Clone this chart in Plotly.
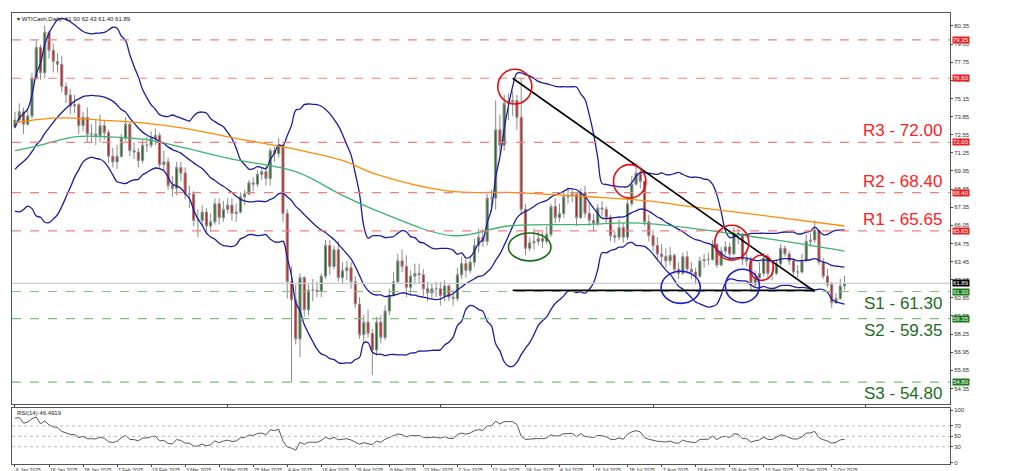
import plotly.graph_objects as go
from plotly.subplots import make_subplots
import pandas as pd

# daily closes before the first visible bar (only used to warm up the indicators)
warmup_close = [68.1, 68.3, 67.9, 68.4, 69.2, 70.3, 70.0, 70.6, 69.9, 70.1,
                69.4, 69.2, 69.5, 69.6, 70.1, 70.6, 71.4, 72.0, 73.1]

close = [73.6, 74.2, 73.3, 73.9, 76.6, 78.8, 77.0, 79.9, 78.6, 77.8,
         77.6, 76.0, 75.4, 74.6, 74.7, 73.2, 73.8, 72.6, 72.6, 72.5,
         73.2, 72.7, 71.0, 70.6, 71.0, 72.3, 73.3, 71.4, 71.3, 70.7,
         71.8, 71.8, 72.3, 72.5, 70.4, 70.6, 68.9, 68.7, 70.2, 69.8,
         68.3, 68.3, 66.4, 66.4, 67.0, 66.0, 66.3, 67.6, 66.6, 67.2,
         67.5, 66.9, 67.0, 68.1, 68.3, 69.1, 69.0, 69.7, 69.9, 69.4,
         71.4, 71.2, 71.8, 66.9, 62.0, 60.7, 57.9, 62.3, 60.0, 61.4,
         61.4, 61.3, 62.4, 64.6, 63.1, 64.3, 62.3, 62.8, 63.0,
         62.0, 60.4, 58.2, 59.1, 58.3, 57.1, 59.1, 58.0, 59.9, 61.0,
         62.0, 63.5, 63.1, 61.6, 62.4, 62.6, 62.5, 61.5, 61.2, 61.5,
         61.5, 61.0, 61.7, 60.9, 60.8, 62.5, 63.3, 62.8, 63.4, 64.6,
         65.2, 64.9, 68.0, 68.0, 72.9, 71.8, 74.8, 74.9, 75.0, 73.8,
         67.2, 64.4, 64.8, 64.9, 65.1, 64.9, 65.4, 67.4, 66.6, 66.9,
         68.1, 68.2, 68.3, 66.6, 68.4, 66.9, 66.4, 66.2, 67.3, 67.2,
         66.6, 65.3, 65.2, 65.9, 65.2, 67.6, 69.0, 69.8, 69.2, 66.3,
         65.3, 64.6, 64.0, 63.8, 63.5, 63.9, 62.9, 62.6, 63.8, 62.9,
         62.7, 62.4, 63.5, 63.6, 63.6, 64.7, 63.2, 64.2, 64.5, 64.0,
         65.5, 65.4, 63.6, 63.5, 61.8, 62.3, 62.6, 63.7, 62.6, 62.6,
         63.3, 64.4, 64.0, 63.5, 62.7, 62.7, 63.5, 64.9, 65.0, 65.7,
         63.4, 62.4, 61.8, 60.5, 60.8, 61.7, 61.89]

high = [74.2, 74.8, 74.5, 74.3, 77.0, 79.3, 79.0, 80.4, 80.0, 79.1,
        78.4, 78.2, 76.3, 75.8, 75.4, 74.8, 74.2, 74.5, 73.3, 73.6,
        74.0, 73.6, 72.9, 71.6, 71.8, 72.6, 73.8, 73.4, 72.0, 71.6,
        72.2, 72.4, 72.8, 73.0, 72.7, 71.4, 70.9, 69.6, 70.6, 70.6,
        70.2, 68.9, 68.5, 67.2, 67.5, 67.3, 66.9, 68.0, 68.0, 67.8,
        68.0, 68.0, 67.6, 68.4, 68.6, 69.3, 69.5, 70.0, 70.2, 70.3,
        71.6, 71.7, 72.3, 71.8, 67.2, 63.1, 61.8, 62.6, 62.4, 61.8,
        62.2, 62.0, 62.6, 65.0, 65.0, 64.6, 64.9, 63.4, 63.5,
        63.4, 62.4, 60.9, 59.6, 60.0, 58.6, 59.5, 59.6, 60.3, 61.5,
        62.7, 64.0, 64.3, 63.9, 62.8, 63.3, 63.3, 62.9, 62.0, 61.9,
        62.0, 62.0, 62.1, 61.8, 61.4, 63.0, 63.8, 63.6, 63.8, 65.1,
        65.8, 65.8, 68.3, 68.6, 75.0, 74.0, 75.4, 75.5, 75.7, 75.4,
        76.6, 67.6, 65.2, 65.8, 65.6, 65.6, 66.0, 67.6, 68.0, 67.6,
        68.5, 68.8, 68.6, 68.3, 68.7, 68.9, 67.6, 66.9, 67.6, 67.8,
        67.4, 66.8, 65.6, 66.5, 66.2, 67.9, 69.6, 70.5, 70.0, 69.2,
        66.8, 65.7, 65.2, 64.7, 64.4, 64.5, 64.0, 63.4, 64.1, 64.2,
        63.4, 63.0, 63.8, 64.0, 64.1, 65.0, 64.7, 64.5, 64.9, 64.8,
        65.9, 66.0, 65.5, 64.1, 63.8, 62.8, 63.4, 64.1, 64.0, 63.1,
        63.6, 64.7, 64.6, 64.2, 63.7, 63.2, 64.0, 65.4, 65.5, 66.4,
        65.7, 63.7, 62.9, 62.0, 61.2, 62.2, 62.43]

low = [73.0, 73.4, 72.6, 73.2, 73.7, 76.5, 76.5, 76.6, 78.0, 77.0,
       77.0, 75.6, 74.8, 74.0, 74.1, 72.6, 72.8, 72.0, 72.0, 71.8,
       72.0, 72.2, 70.5, 70.2, 70.1, 70.9, 72.1, 71.0, 70.8, 70.2,
       70.5, 71.3, 71.6, 71.8, 70.1, 70.0, 68.6, 68.1, 68.2, 69.2,
       67.9, 67.3, 66.0, 65.2, 66.0, 65.4, 65.6, 66.1, 66.1, 66.3,
       66.9, 66.4, 66.3, 66.9, 67.5, 68.2, 68.5, 68.8, 69.3, 68.9,
       68.9, 70.6, 70.9, 66.3, 60.8, 54.8, 57.5, 56.6, 59.5, 59.6,
       60.6, 60.9, 60.9, 62.2, 62.5, 62.9, 62.0, 61.9, 62.1,
       61.5, 60.1, 57.9, 57.5, 58.0, 55.3, 56.7, 57.6, 57.8, 59.6,
       61.1, 61.9, 62.7, 60.9, 61.1, 61.8, 61.9, 61.0, 60.6, 60.8,
       60.9, 60.3, 60.6, 60.6, 60.3, 60.6, 62.2, 62.3, 62.6, 63.1,
       64.1, 64.5, 64.6, 67.0, 67.2, 71.2, 71.4, 73.6, 73.9, 72.9,
       66.8, 63.9, 64.2, 64.3, 64.6, 64.4, 64.7, 65.2, 66.2, 66.3,
       66.6, 67.6, 67.7, 66.0, 66.5, 66.6, 66.0, 65.6, 66.0, 66.7,
       66.2, 64.9, 64.8, 65.0, 64.8, 65.0, 67.4, 68.9, 68.7, 66.0,
       64.9, 64.2, 63.6, 63.2, 63.0, 63.2, 62.6, 62.2, 62.5, 62.6,
       62.2, 61.8, 62.3, 63.0, 63.2, 63.5, 63.0, 63.1, 63.9, 63.7,
       63.9, 64.7, 63.2, 63.1, 61.4, 61.6, 62.0, 62.4, 62.3, 62.1,
       62.5, 63.1, 63.8, 63.2, 62.5, 62.3, 62.6, 63.4, 64.5, 64.8,
       63.2, 62.2, 61.6, 60.1, 60.4, 60.7, 61.40]

# moving averages: (bar index, price)
ma200_pts = [(0, 73.4), (10, 73.75), (20, 73.6), (30, 73.4), (40, 73.0), (50, 72.4),
             (66, 71.5), (77, 70.7), (85, 69.7), (102, 68.5), (117, 68.4), (135, 68.1),
             (149, 67.8), (156, 67.5), (172, 66.9), (195, 66.0)]
ma100_pts = [(0, 71.4), (6, 71.8), (14, 72.4), (22, 72.4), (31, 72.2), (40, 71.6),
             (51, 70.8), (66, 69.9), (77, 68.2), (85, 67.1), (103, 65.3), (116, 66.0),
             (133, 66.1), (147, 66.2), (172, 65.3), (195, 64.2)]

tick_labels = ["6 Jan 2025", "16 Jan 2025", "28 Jan 2025", "7 Feb 2025", "19 Feb 2025",
               "3 Mar 2025", "13 Mar 2025", "25 Mar 2025", "4 Apr 2025", "16 Apr 2025",
               "29 Apr 2025", "9 May 2025", "21 May 2025", "2 Jun 2025", "12 Jun 2025",
               "24 Jun 2025", "4 Jul 2025", "16 Jul 2025", "28 Jul 2025", "7 Aug 2025",
               "19 Aug 2025", "29 Aug 2025", "10 Sep 2025", "22 Sep 2025", "2 Oct 2025"]

resistances = [("R3", 72.00), ("R2", 68.40), ("R1", 65.65)]
supports = [("S1", 61.30), ("S2", 59.35), ("S3", 54.80)]
extra_red = [79.35, 76.60]
last_price = 61.89

# --- indicators
n = len(close)
full = pd.Series(warmup_close + close)
mid = full.rolling(20).mean()
sd = full.rolling(20).std(ddof=0)
w = len(warmup_close)
bb_mid = mid.iloc[w:].values
bb_up = (mid + 2 * sd).iloc[w:].values
bb_lo = (mid - 2 * sd).iloc[w:].values

delta = full.diff()
gain = delta.clip(lower=0).ewm(alpha=1 / 14, adjust=False).mean()
loss = (-delta.clip(upper=0)).ewm(alpha=1 / 14, adjust=False).mean()
rsi = (100 - 100 / (1 + gain / loss)).iloc[w:].values

opens = [warmup_close[-1]] + close[:-1]
hi = [max(h, o, c) for h, o, c in zip(high, opens, close)]
lo = [min(l, o, c) for l, o, c in zip(low, opens, close)]
x = list(range(n))

fig = make_subplots(rows=2, cols=1, shared_xaxes=True)

fig.add_trace(go.Candlestick(
    x=x, open=opens, high=hi, low=lo, close=close,
    increasing=dict(fillcolor="#1b6e1b", line=dict(color="#8a8a8a", width=1)),
    decreasing=dict(fillcolor="#e01010", line=dict(color="#8a8a8a", width=1)),
    whiskerwidth=0, showlegend=False, hoverinfo="skip"), row=1, col=1)

for ser in (bb_up, bb_mid, bb_lo):
    fig.add_trace(go.Scatter(x=x, y=ser, mode="lines", line=dict(color="#1c1ca0", width=1.3),
                             line_shape="spline", showlegend=False), row=1, col=1)
for pts, col in ((ma200_pts, "#ff8c00"), (ma100_pts, "#3cb371")):
    fig.add_trace(go.Scatter(x=[p[0] for p in pts], y=[p[1] for p in pts], mode="lines",
                             line=dict(color=col, width=1.3), line_shape="spline",
                             showlegend=False), row=1, col=1)

fig.add_trace(go.Scatter(x=x, y=rsi, mode="lines", line=dict(color="#555555", width=1),
                         showlegend=False), row=2, col=1)

# levels
red = "#f08080"
grn = "#7fbf7f"
for lvl in [p for _, p in resistances] + extra_red:
    fig.add_hline(y=lvl, line=dict(color=red, width=1.2, dash="dash"), row=1, col=1)
for _, lvl in supports:
    fig.add_hline(y=lvl, line=dict(color=grn, width=1.2, dash="dash"), row=1, col=1)
fig.add_hline(y=last_price, line=dict(color="#c8ccd4", width=1.2), row=1, col=1)
for lvl in (30, 50, 70):
    fig.add_hline(y=lvl, line=dict(color="#bbbbbb", width=1, dash="dot"), row=2, col=1)

for name, lvl in resistances:
    fig.add_annotation(x=1, xref="x domain", y=lvl, yref="y", text=f"{name} - {lvl:.2f}",
                       showarrow=False, xanchor="right", yanchor="bottom", xshift=-6,
                       font=dict(size=17, color="#ff2020", family="Liberation Sans"))
for name, lvl in supports:
    fig.add_annotation(x=1, xref="x domain", y=lvl, yref="y", text=f"{name} - {lvl:.2f}",
                       showarrow=False, xanchor="right", yanchor="top", xshift=-6,
                       font=dict(size=17, color="#1a6e1a", family="Liberation Sans"))

# price tags on the right axis
tags = [(p, "#e82020") for p in extra_red + [p for _, p in resistances]] + \
       [(p, "#1a7a1a") for _, p in supports] + [(last_price, "#000000")]
for p, c in tags:
    fig.add_annotation(x=1, xref="x domain", y=p, yref="y", text=f"{p:.2f}", showarrow=False,
                       xanchor="left", xshift=2, bgcolor=c, font=dict(size=6, color="white"),
                       borderpad=0)

# date labels start at their tick, as on the terminal
for i, lab in enumerate(tick_labels):
    fig.add_annotation(x=i * 8, xref="x2", y=0, yref="paper", text=lab, showarrow=False,
                       xanchor="left", yanchor="top", yshift=-1, xshift=-1,
                       font=dict(size=5, color="#333"))

# trend lines and markers
fig.add_shape(type="line", x0=117, y0=76.6, x1=188, y1=61.3, line=dict(color="black", width=1.6),
              row=1, col=1)
fig.add_shape(type="line", x0=117, y0=61.38, x1=188, y1=61.38, line=dict(color="black", width=1.6),
              row=1, col=1)
circles = [(117.5, 76.0, 4.0, 1.25, "red"), (144.5, 69.2, 3.8, 1.2, "red"),
           (168.5, 64.8, 4.0, 1.25, "red"), (175.5, 63.0, 2.8, 0.9, "red"),
           (156.5, 61.6, 4.6, 1.15, "blue"), (171.0, 61.7, 4.0, 1.2, "blue"),
           (121.0, 64.5, 5.0, 1.0, "green")]
for cx, cy, rx, ry, c in circles:
    fig.add_shape(type="circle", x0=cx - rx, x1=cx + rx, y0=cy - ry, y1=cy + ry,
                  line=dict(color={"red": "#e01010", "blue": "#1c1ccc", "green": "#157015"}[c],
                                   width=1.6), row=1, col=1)

fig.add_annotation(x=0, xref="paper", y=1, yref="paper", text="▾ WTICash,Daily  61.90 62.43 61.40 61.89",
                   showarrow=False, xanchor="left", yanchor="top", xshift=3, yshift=-1,
                   font=dict(size=6, color="#222"))
fig.add_annotation(x=0, xref="x domain", y=1, yref="y2 domain", text="RSI(14) 46.4919",
                   showarrow=False, xanchor="left", yanchor="top", xshift=3,
                   font=dict(size=6, color="#222"))

price_ticks = [round(80.35 - 1.30 * i, 2) for i in range(22)]
axis_common = dict(showline=True, linecolor="#555", mirror=True, showgrid=False, zeroline=False,
                   ticks="outside", ticklen=2, tickfont=dict(size=6, color="#333"))
fig.update_xaxes(range=[-0.7, 219.8], rangeslider_visible=False, **axis_common)
fig.update_xaxes(tickvals=[i * 8 for i in range(len(tick_labels))], showticklabels=False,
                 row=2, col=1)
fig.update_xaxes(showticklabels=False, row=1, col=1)
fig.update_yaxes(side="right", **axis_common)
fig.update_yaxes(range=[53.23, 81.28], tickvals=price_ticks, domain=[0.133, 1],
                 ticktext=[f"{v:.2f}" for v in price_ticks], row=1, col=1)
fig.update_yaxes(range=[-3, 104], tickvals=[0, 30, 50, 70, 100], domain=[0, 0.124],
                 row=2, col=1)

fig.update_layout(width=1015, height=471, margin=dict(l=4, r=73, t=5, b=15),
                  plot_bgcolor="white", paper_bgcolor="white",
                  font=dict(family="Liberation Sans"))

fig.write_html("out.html")
